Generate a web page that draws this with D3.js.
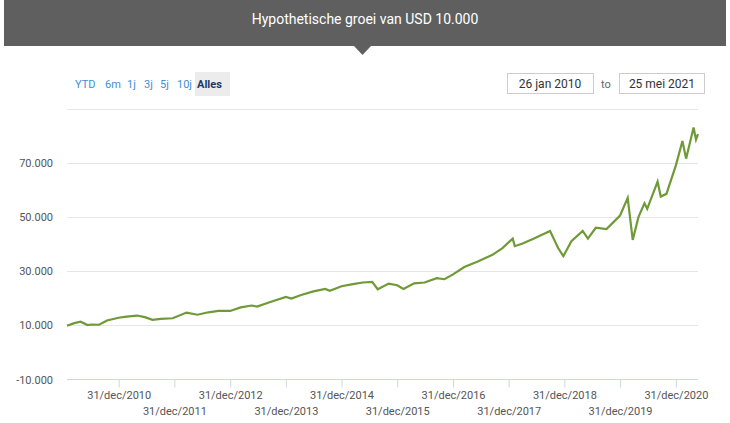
<!DOCTYPE html>
<html><head><meta charset="utf-8">
<script src="https://cdn.jsdelivr.net/npm/d3@7"></script>
<style>
body{margin:0;background:#fff;font-family:Roboto,"Liberation Sans",sans-serif;}
</style></head><body>
<svg id="chart" width="730" height="423"></svg>
<script>
var dates = ["2010-01-26","2010-03-15","2010-04-25","2010-06-10","2010-07-05","2010-08-25","2010-10-15","2010-12-31",
  "2011-02-20","2011-04-30","2011-06-20","2011-08-10","2011-10-01","2011-12-20","2012-03-20","2012-05-30","2012-08-10",
  "2012-10-15","2012-12-31","2013-03-10","2013-05-20","2013-06-25","2013-09-15","2013-12-31","2014-02-05","2014-04-10",
  "2014-06-30","2014-09-15","2014-10-15","2014-12-31","2015-03-15","2015-05-20","2015-07-20","2015-08-25","2015-11-05",
  "2015-12-31","2016-02-10","2016-04-20","2016-06-27","2016-09-15","2016-11-05","2016-12-31","2017-03-15","2017-06-15",
  "2017-09-15","2017-11-20","2018-01-26","2018-02-09","2018-04-01","2018-06-15","2018-09-28","2018-11-20","2018-12-24",
  "2019-02-15","2019-04-30","2019-06-03","2019-07-25","2019-10-03","2019-12-31","2020-02-19","2020-03-23","2020-04-30",
  "2020-06-08","2020-06-26","2020-09-02","2020-09-23","2020-10-30","2020-12-31","2021-02-12","2021-03-08","2021-04-26",
  "2021-05-12","2021-05-25"];
var values = [9800,10800,11300,10100,10300,10200,11800,12800,
  13200,13600,13000,12000,12400,12600,14700,13900,14800,
  15300,15300,16600,17300,16900,18500,20500,19900,21200,
  22500,23400,22700,24400,25200,25800,26000,23300,25400,
  24800,23400,25500,25800,27400,27000,28800,31500,33600,
  36000,38500,42000,39200,40200,42000,44800,38500,35500,
  41000,44800,42000,46000,45500,50500,57000,41500,50000,
  55000,53000,63000,57500,58500,69000,78000,71500,83000,
  78500,80500];
var yTicks = [-10000,10000,30000,50000,70000,90000];
var yLabels = ["-10.000","10.000","30.000","50.000","70.000",""];
var tickYears = [2010,2011,2012,2013,2014,2015,2016,2017,2018,2019,2020];
var ranges = ["YTD","6m","1j","3j","5j","10j","Alles"];

var svg = d3.select("#chart");
var parse = d3.timeParse("%Y-%m-%d");
var data = dates.map(function(d,i){ return {d: parse(d), v: values[i]}; });

// header
svg.append("rect").attr("x",4).attr("y",0).attr("width",722).attr("height",46).attr("fill","#5f5f5f");
svg.append("path").attr("d","M354,46 L371,46 L362.5,55 Z").attr("fill","#5f5f5f");
svg.append("text").attr("x",365).attr("y",24).attr("text-anchor","middle").attr("fill","#fff")
  .attr("font-size",14).text("Hypothetische groei van USD 10.000");

// range buttons
var bx = [75,105,127,144,160,177,197];
svg.append("rect").attr("x",195).attr("y",72).attr("width",35).attr("height",24).attr("fill","#ececec");
ranges.forEach(function(r,i){
  svg.append("text").attr("x",bx[i]).attr("y",88).attr("font-size",11)
    .attr("fill", i==6 ? "#1a3a6b" : "#3d8fd8").attr("font-weight", i==6 ? "bold" : "normal").text(r);
});
svg.append("rect").attr("x",507.5).attr("y",73.5).attr("width",86).attr("height",20).attr("fill","#fff").attr("stroke","#ccc");
svg.append("text").attr("x",550).attr("y",88).attr("text-anchor","middle").attr("font-size",12).attr("fill","#333").text("26 jan 2010");
svg.append("text").attr("x",606).attr("y",88).attr("text-anchor","middle").attr("font-size",11).attr("fill","#666").text("to");
svg.append("rect").attr("x",619.5).attr("y",73.5).attr("width",85).attr("height",20).attr("fill","#fff").attr("stroke","#ccc");
svg.append("text").attr("x",662).attr("y",88).attr("text-anchor","middle").attr("font-size",12).attr("fill","#333").text("25 mei 2021");

var x = d3.scaleTime().domain([parse("2010-01-26"), parse("2021-05-25")]).range([67,698]);
var y = d3.scaleLinear().domain([-10000,90000]).range([379.5,108.5]);

// grid
svg.append("g").selectAll("line").data(yTicks.slice(1)).join("line")
  .attr("x1",67).attr("x2",698).attr("y1",function(d){return Math.round(y(d))+0.5;}).attr("y2",function(d){return Math.round(y(d))+0.5;})
  .attr("stroke","#e6e6e6");
svg.append("g").selectAll("text").data(yTicks).join("text")
  .attr("x",53).attr("y",function(d){return y(d)+4;}).attr("text-anchor","end").attr("font-size",11).attr("fill","#555")
  .text(function(d,i){return yLabels[i];});

// x axis
var tickDates = tickYears.map(function(yr){ return new Date(yr,11,31); });
var xAxis = d3.axisBottom(x).tickValues(tickDates).tickSize(8).tickFormat(function(d){ return "31/dec/" + d.getFullYear(); });
var ax = svg.append("g").attr("transform","translate(0,379.5)").call(xAxis);
ax.select(".domain").attr("stroke","#ccd6eb").attr("d","M67,0H698");
ax.selectAll(".tick line").attr("stroke","#ccd6eb");
ax.selectAll(".tick text").attr("font-size",11).attr("fill","#555").attr("font-family","Roboto,sans-serif")
  .attr("y",function(d,i){ return i%2==0 ? 12 : 28; });

// line
var line = d3.line().x(function(d){return x(d.d);}).y(function(d){return y(d.v);});
svg.append("path").datum(data).attr("d",line).attr("fill","none").attr("stroke","#6f9a37").attr("stroke-width",2.2);
</script>
</body></html>
